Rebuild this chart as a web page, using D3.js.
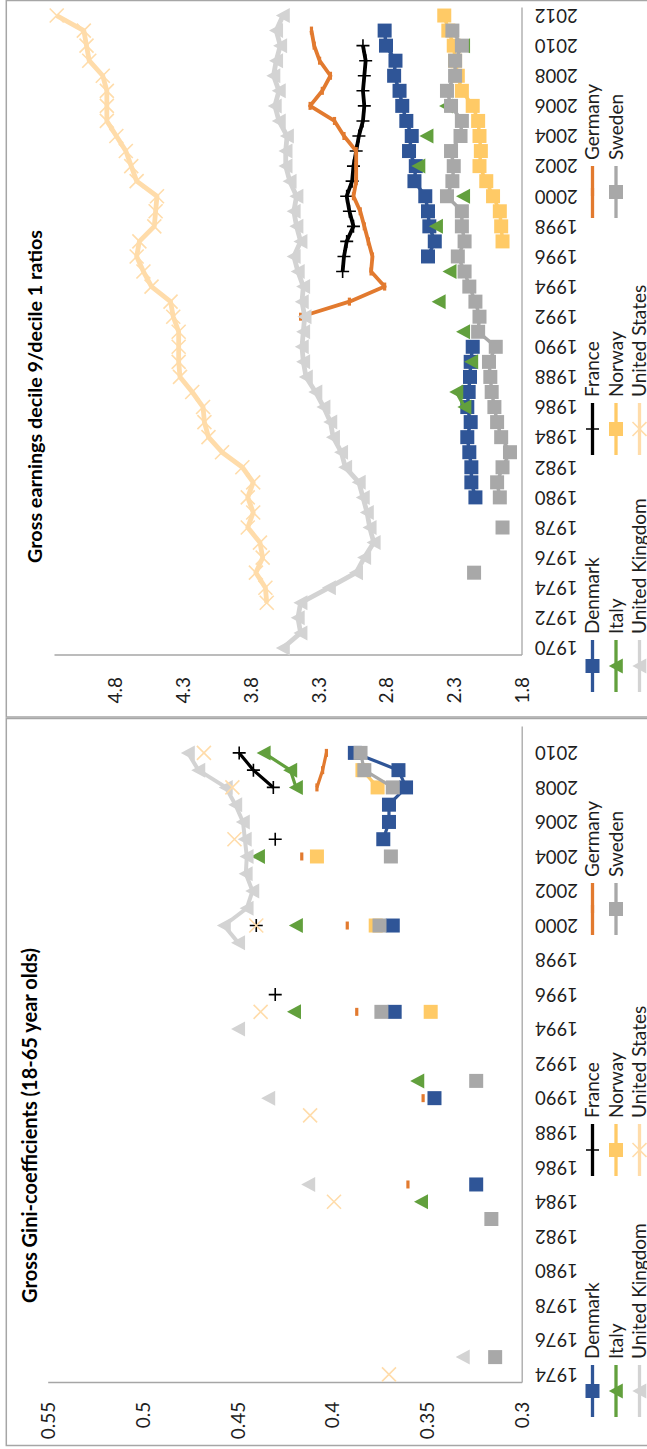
<!DOCTYPE html>
<html>
<head>
<meta charset="utf-8">
<script src="https://cdn.jsdelivr.net/npm/d3@7"></script>
<style>
  html, body { margin: 0; padding: 0; background: #fff; }
  svg { display: block; }
</style>
</head>
<body>
<script>
// ---------- Gross Gini-coefficients (18-65 year olds) ----------
const giniYears = [1974,1975,1976,1977,1978,1979,1980,1981,1982,1983,1984,1985,1986,1987,1988,1989,
  1990,1991,1992,1993,1994,1995,1996,1997,1998,1999,2000,2001,2002,2003,2004,2005,2006,2007,2008,2009,2010,2011];
const giniTickLabels = ["0.3","0.35","0.4","0.45","0.5","0.55"];

const giniDenmark = [[1985,0.324],[1990,0.346],[1995,0.367],[2000,0.368],[2005,0.373],[2006,0.370],[2007,0.370],[2008,0.361],[2009,0.365],[2010,0.388]];
const giniFrance  = [[1996,0.430],[2000,0.440],[2005,0.430],[2008,0.431],[2009,0.4415],[2010,0.449]];
const giniGermany = [[1985,0.360],[1990,0.352],[1995,0.387],[2000,0.392],[2004,0.416],[2008,0.408],[2009,0.405],[2010,0.403]];
const giniItaly   = [[1984,0.353],[1991,0.355],[1995,0.420],[2000,0.419],[2004,0.439],[2008,0.419],[2009,0.422],[2010,0.436]];
const giniNorway  = [[1995,0.348],[2000,0.377],[2004,0.408],[2008,0.376],[2009,0.384]];
const giniSweden  = [[1975,0.314],[1983,0.316],[1991,0.324],[1995,0.374],[2000,0.375],[2004,0.369],[2008,0.368],[2009,0.383],[2010,0.385]];
const giniUK      = [[1975,0.331],[1985,0.4125],[1990,0.4336],[1994,0.4495],[1999,0.4495],[2000,0.457],[2001,0.445],[2002,0.442],
  [2003,0.4455],[2004,0.445],[2005,0.446],[2006,0.447],[2007,0.451],[2008,0.456],[2009,0.4705],[2010,0.476]];
const giniUS      = [[1974,0.370],[1984,0.399],[1989,0.4116],[1995,0.4377],[2000,0.440],[2005,0.4515],[2008,0.4526],[2010,0.4676]];

// ---------- Gross earnings decile 9/decile 1 ratios ----------
const d9Years = [1970,1971,1972,1973,1974,1975,1976,1977,1978,1979,1980,1981,1982,1983,1984,1985,1986,1987,1988,1989,
  1990,1991,1992,1993,1994,1995,1996,1997,1998,1999,2000,2001,2002,2003,2004,2005,2006,2007,2008,2009,2010,2011,2012];
const d9TickLabels = ["1.8","2.3","2.8","3.3","3.8","4.3","4.8"];

const d9Denmark = [[1980,2.14],[1981,2.17],[1982,2.17],[1983,2.185],[1984,2.20],[1985,2.175],[1986,2.20],[1987,2.19],[1988,2.18],
  [1989,2.175],[1990,2.16],[1996,2.49],[1997,2.44],[1998,2.48],[1999,2.49],[2000,2.51],[2001,2.59],[2002,2.58],[2003,2.63],
  [2004,2.61],[2005,2.65],[2006,2.68],[2007,2.70],[2008,2.74],[2009,2.73],[2010,2.80],[2011,2.81]];
const d9France  = [[1995,3.12],[1996,3.11],[1997,3.09],[1998,3.04],[1999,3.07],[2000,3.09],[2001,3.05],[2002,3.04],[2003,3.02],
  [2004,3.00],[2005,2.97],[2006,2.96],[2007,2.97],[2008,2.96],[2009,2.95],[2010,2.97]];
const d9Germany = [[1992,3.43],[1993,3.07],[1994,2.81],[1995,2.91],[1996,2.90],[1997,2.93],[1998,2.96],[1999,2.99],[2000,3.04],
  [2001,3.02],[2002,3.02],[2003,3.02],[2004,3.11],[2005,3.18],[2006,3.36],[2007,3.27],[2008,3.21],[2009,3.29],[2010,3.33],[2011,3.35]];
const d9Italy   = [[1986,2.22],[1987,2.28],[1989,2.17],[1991,2.23],[1993,2.41],[1995,2.33],[1998,2.43],[2000,2.23],[2002,2.56],
  [2004,2.50],[2006,2.355],[2010,2.23]];
const d9Norway  = [[1997,1.94],[1998,1.95],[1999,1.96],[2000,2.01],[2001,2.06],[2002,2.11],[2003,2.10],[2004,2.11],[2005,2.12],
  [2006,2.16],[2007,2.24],[2008,2.27],[2009,2.29],[2010,2.30],[2011,2.34],[2012,2.37]];
const d9Sweden  = [[1975,2.15],[1978,1.94],[1980,1.96],[1981,1.98],[1982,1.94],[1983,1.885],[1984,1.95],[1985,1.98],[1986,2.00],
  [1987,2.02],[1988,2.03],[1989,2.04],[1990,1.99],[1991,2.12],[1992,2.11],[1993,2.14],[1994,2.185],[1995,2.22],[1996,2.27],
  [1997,2.22],[1998,2.24],[1999,2.24],[2000,2.35],[2001,2.31],[2002,2.30],[2003,2.32],[2004,2.25],[2005,2.24],[2006,2.32],
  [2007,2.35],[2008,2.29],[2009,2.29],[2010,2.24],[2011,2.31]];
const d9UK      = [[1970,3.56],[1971,3.43],[1972,3.45],[1973,3.43],[1974,3.22],[1975,3.02],[1976,2.96],[1977,2.89],[1978,2.92],
  [1979,2.94],[1980,2.97],[1981,3.00],[1982,3.10],[1983,3.13],[1984,3.19],[1985,3.21],[1986,3.26],[1987,3.32],[1988,3.39],
  [1989,3.41],[1990,3.42],[1991,3.41],[1992,3.40],[1993,3.42],[1994,3.41],[1995,3.45],[1996,3.48],[1997,3.43],[1998,3.46],
  [1999,3.48],[2000,3.46],[2001,3.51],[2002,3.54],[2003,3.54],[2004,3.53],[2005,3.59],[2006,3.62],[2007,3.59],[2008,3.63],
  [2009,3.61],[2010,3.58],[2011,3.61],[2012,3.56]];
const d9US      = [[1973,3.68],[1974,3.69],[1975,3.76],[1976,3.71],[1977,3.73],[1978,3.82],[1979,3.78],[1980,3.82],[1981,3.78],
  [1982,3.86],[1983,4.01],[1984,4.11],[1985,4.14],[1986,4.15],[1987,4.23],[1988,4.32],[1989,4.33],[1990,4.33],[1991,4.33],
  [1992,4.37],[1993,4.39],[1994,4.53],[1995,4.59],[1996,4.64],[1997,4.62],[1998,4.51],[1999,4.50],[2000,4.49],[2001,4.64],
  [2002,4.68],[2003,4.72],[2004,4.79],[2005,4.86],[2006,4.86],[2007,4.86],[2008,4.89],[2009,4.99],[2010,5.01],[2011,5.03],[2012,5.23]];

const countries = ["Denmark","France","Germany","Italy","Norway","Sweden","United Kingdom","United States"];
const legendRows = [["Denmark","France","Germany"],["Italy","Norway","Sweden"],["United Kingdom","United States"]];

// look of each country's series
const seriesStyle = {
  "Denmark":        { color: "#2F5597", marker: "square" },
  "France":         { color: "#000000", marker: "plus" },
  "Germany":        { color: "#E27A2F", marker: "dash" },
  "Italy":          { color: "#62A03D", marker: "triangle" },
  "Norway":         { color: "#FFCA66", marker: "square" },
  "Sweden":         { color: "#A8A8A8", marker: "square" },
  "United Kingdom": { color: "#D3D3D3", marker: "triangle" },
  "United States":  { color: "#FFDCAA", marker: "x" }
};

const FONT = "Lato, 'Open Sans', 'Liberation Sans', sans-serif";
const TEXT_COLOR = "#1e1e1e";
const AXIS_COLOR = "#A6A6A6";

// The figure is laid out landscape (1449 x 647) and turned a quarter turn onto the page.
const svg = d3.select("body").append("svg").attr("width", 647).attr("height", 1449);
const fig = svg.append("g").attr("transform", "translate(0,1449) rotate(-90)");

function drawMarker(g, type, color, cx, cy) {
  if (type === "square") {
    g.append("rect").attr("x", cx - 7).attr("y", cy - 7).attr("width", 14).attr("height", 14)
      .attr("fill", color);
  } else if (type === "triangle") {
    g.append("path").attr("d", `M${cx},${cy - 7.2}L${cx + 7.5},${cy + 6.8}L${cx - 7.5},${cy + 6.8}Z`)
      .attr("fill", color);
  } else if (type === "plus") {
    g.append("path").attr("d", `M${cx - 6.5},${cy}H${cx + 6.5}M${cx},${cy - 6.5}V${cy + 6.5}`)
      .attr("stroke", color).attr("stroke-width", 1.6).attr("fill", "none");
  } else if (type === "x") {
    g.append("path").attr("d", `M${cx - 7},${cy - 7}L${cx + 7},${cy + 7}M${cx + 7},${cy - 7}L${cx - 7},${cy + 7}`)
      .attr("stroke", color).attr("stroke-width", 1.6).attr("fill", "none");
  } else if (type === "dash") {
    g.append("rect").attr("x", cx - 4).attr("y", cy - 1.6).attr("width", 8).attr("height", 3.2)
      .attr("fill", color);
  }
}

function drawPanel(p) {
  const g = fig.append("g");

  // panel frame
  g.append("rect")
    .attr("x", p.frame[0]).attr("y", 6.3)
    .attr("width", p.frame[1] - p.frame[0]).attr("height", 720)
    .attr("fill", "none").attr("stroke", AXIS_COLOR).attr("stroke-width", 1.5);

  const x = d3.scaleBand().domain(p.years).range(p.xRange);
  const cx = yr => x(yr) + x.bandwidth() / 2;
  const y = d3.scaleLinear().domain(p.yDomain).range(p.yRange);

  // value axis
  const yAxis = d3.axisLeft(y)
    .tickValues(p.ticks.map(Number))
    .tickFormat((d, i) => p.ticks[i])
    .tickSize(0).tickSizeOuter(0).tickPadding(p.tickPad);
  const ya = g.append("g").attr("transform", `translate(${p.xRange[0]},0)`).call(yAxis);
  ya.select(".domain").attr("stroke", AXIS_COLOR).attr("stroke-width", 1.3);
  ya.selectAll("text").attr("font-family", FONT).attr("font-size", 19).attr("fill", TEXT_COLOR)
    .attr("dy", "0.36em");

  // year axis, labels every second year
  const xAxis = d3.axisBottom(x)
    .tickValues(p.years.filter((d, i) => i % 2 === 0))
    .tickSize(0).tickSizeOuter(0);
  const xa = g.append("g").attr("transform", `translate(0,${p.yRange[0]})`).call(xAxis);
  xa.select(".domain").attr("stroke", AXIS_COLOR).attr("stroke-width", 1.3);
  xa.selectAll("text")
    .attr("x", 0).attr("y", 0).attr("dy", "0.36em")
    .attr("text-anchor", "end")
    .attr("transform", "translate(0,13.3) rotate(-90)")
    .attr("font-family", FONT).attr("font-size", 18.5).attr("fill", TEXT_COLOR);

  // series: line through consecutive years, then markers
  const plot = g.append("g");
  countries.forEach(name => {
    const st = seriesStyle[name];
    const byYear = new Map(p.series[name]);
    const full = p.years.map(yr => ({ yr, v: byYear.has(yr) ? byYear.get(yr) : null }));
    const line = d3.line().defined(d => d.v !== null).x(d => cx(d.yr)).y(d => y(d.v));
    plot.append("path").datum(full).attr("d", line)
      .attr("fill", "none").attr("stroke", st.color)
      .attr("stroke-width", p.lineWidth[name] || p.lineWidth.default)
      .attr("stroke-linejoin", "round");
    const mg = plot.append("g");
    p.series[name].forEach(([yr, v]) => drawMarker(mg, st.marker, st.color, cx(yr), y(v)));
  });

  // title, sized to its measured span
  const title = g.append("text")
    .attr("x", p.titleX).attr("y", p.titleY)
    .attr("text-anchor", "middle")
    .attr("font-family", FONT).attr("font-weight", "bold").attr("font-size", 18)
    .attr("fill", "#000").text(p.title);
  const tw = title.node().getComputedTextLength();
  if (tw > 0) title.attr("font-size", 18 * p.titleWidth / tw);

  // legend
  const lg = g.append("g");
  legendRows.forEach((row, r) => {
    row.forEach((name, c) => {
      const st = seriesStyle[name];
      const x0 = p.legendX[c], ly = p.legendY[r];
      lg.append("line").attr("x1", x0).attr("x2", x0 + 52).attr("y1", ly).attr("y2", ly)
        .attr("stroke", st.color).attr("stroke-width", 3.3);
      drawMarker(lg, st.marker, st.color, x0 + 26, ly);
      lg.append("text").attr("x", x0 + 58).attr("y", ly).attr("dy", "0.36em")
        .attr("font-family", FONT).attr("font-size", 19).attr("fill", TEXT_COLOR)
        .text(name);
    });
  });
}

drawPanel({
  title: "Gross Gini-coefficients (18-65 year olds)",
  titleX: 323.5, titleY: 36.5, titleWidth: 355,
  frame: [3.5, 730.5],
  years: giniYears,
  xRange: [66, 722],
  yDomain: [0.3, 0.55], yRange: [521.7, 47.7],
  ticks: giniTickLabels, tickPad: 18.7,
  lineWidth: { default: 3.2, "United Kingdom": 4 },
  legendX: [32, 273, 514], legendY: [592.5, 616, 639.5],
  series: {
    "Denmark": giniDenmark, "France": giniFrance, "Germany": giniGermany, "Italy": giniItaly,
    "Norway": giniNorway, "Sweden": giniSweden, "United Kingdom": giniUK, "United States": giniUS
  }
});

drawPanel({
  title: "Gross earnings decile 9/decile 1 ratios",
  titleX: 1052.5, titleY: 41.5, titleWidth: 333,
  frame: [732, 1448.5],
  years: d9Years,
  xRange: [793.5, 1441],
  yDomain: [1.8, 5.25], yRange: [521.5, 54],
  ticks: d9TickLabels, tickPad: 21.5,
  lineWidth: { default: 3.5, "United Kingdom": 4.8, "United States": 4.8, "France": 3.8, "Germany": 3.8 },
  legendX: [757, 994, 1231], legendY: [592.5, 616, 639.5],
  series: {
    "Denmark": d9Denmark, "France": d9France, "Germany": d9Germany, "Italy": d9Italy,
    "Norway": d9Norway, "Sweden": d9Sweden, "United Kingdom": d9UK, "United States": d9US
  }
});
</script>
</body>
</html>
